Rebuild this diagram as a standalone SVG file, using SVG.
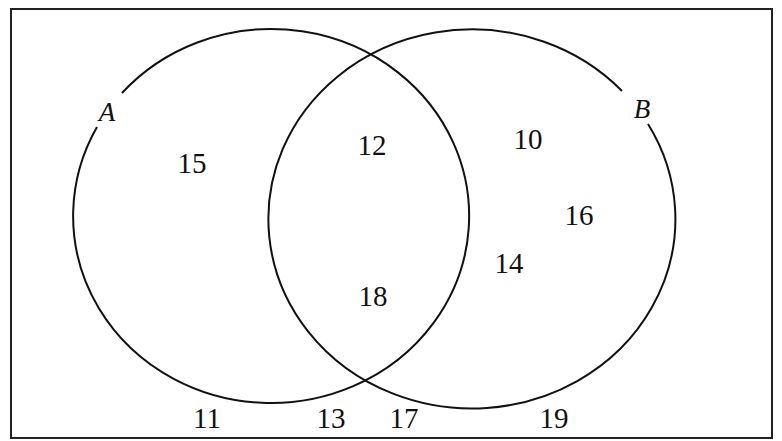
<svg xmlns="http://www.w3.org/2000/svg" width="782" height="441" viewBox="0 0 782 441">
<style>
.ln{fill:none;stroke:#111;stroke-width:2}
.num{font-family:"Liberation Serif","Times New Roman",serif;font-size:29px;fill:#111;text-anchor:middle}
.lbl{font-family:"Liberation Serif","Times New Roman",serif;font-size:27px;font-style:italic;fill:#111;text-anchor:middle}
</style>
<rect width="782" height="441" fill="#fff"/>
<rect id="universe" x="11" y="9" width="761" height="429" fill="none" stroke="#222" stroke-width="2"/>
<g id="setA">
<path class="ln" d="M 122 93 A 198 187 0 1 1 97 127"/>
<text class="lbl" x="107" y="121">A</text>
</g>
<g id="setB">
<path class="ln" d="M 648 124 A 203.5 189.5 0 1 1 622 91"/>
<text class="lbl" x="642" y="118">B</text>
</g>
<g id="values">
<text class="num" x="192" y="173">15</text>
<text class="num" x="372" y="155">12</text>
<text class="num" x="373" y="306">18</text>
<text class="num" x="528" y="149">10</text>
<text class="num" x="579" y="225">16</text>
<text class="num" x="509" y="273">14</text>
<text class="num" x="207" y="428">11</text>
<text class="num" x="331" y="428">13</text>
<text class="num" x="404" y="428">17</text>
<text class="num" x="554" y="428">19</text>
</g>
</svg>
